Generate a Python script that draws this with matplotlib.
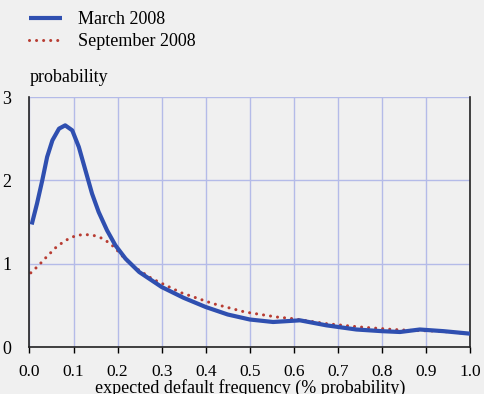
import matplotlib
matplotlib.use("Agg")
import matplotlib.pyplot as plt

march_x = [0.005, 0.017, 0.029, 0.04, 0.052, 0.067, 0.081, 0.097, 0.112, 0.127,
           0.142, 0.157, 0.176, 0.195, 0.218, 0.249, 0.283, 0.3, 0.35, 0.4, 0.45, 0.5,
           0.553, 0.614, 0.674, 0.742, 0.8, 0.841, 0.886, 0.94, 1.0]
march_y = [1.47, 1.72, 2.0, 2.28, 2.48, 2.62, 2.66, 2.6, 2.4, 2.12,
           1.84, 1.62, 1.4, 1.22, 1.06, 0.9, 0.78, 0.72, 0.59, 0.48, 0.39, 0.33,
           0.30, 0.32, 0.26, 0.21, 0.19, 0.18, 0.21, 0.19, 0.16]

sept_x = [0.003, 0.021, 0.033, 0.046, 0.059, 0.074, 0.089, 0.107, 0.126, 0.145, 0.162,
          0.178, 0.192, 0.218, 0.234, 0.249, 0.278, 0.345, 0.417, 0.489, 0.561, 0.598,
          0.674, 0.75, 0.826, 0.864, 0.93, 1.0]
sept_y = [0.89, 0.98, 1.05, 1.12, 1.19, 1.25, 1.30, 1.34, 1.35, 1.34, 1.31,
          1.26, 1.20, 1.05, 0.98, 0.92, 0.82, 0.65, 0.52, 0.42, 0.36, 0.34,
          0.28, 0.24, 0.21, 0.20, 0.19, 0.16]

x_ticks = [0.0, 0.1, 0.2, 0.3, 0.4, 0.5, 0.6, 0.7, 0.8, 0.9, 1.0]
y_ticks = [0, 1, 2, 3]

BG = "#f0f0f0"
BLUE = "#2f4fb0"
RED = "#b83c32"
GRID = "#b4bbe8"

plt.rcParams["font.family"] = ["Liberation Serif", "DejaVu Serif"]
plt.rcParams["font.size"] = 13

fig = plt.figure(figsize=(4.85, 3.94), dpi=100, facecolor=BG)
ax = fig.add_axes([29.5 / 485, 47 / 394, 440.5 / 485, 250 / 394], facecolor=BG)

line_m, = ax.plot(march_x, march_y, color=BLUE, lw=3.0, solid_capstyle="butt",
                  solid_joinstyle="round", zorder=3)
line_s, = ax.plot(sept_x, sept_y, color=RED, lw=2.2, linestyle=(0, (0.01, 2.3)),
                  dash_capstyle="round", zorder=2)

ax.set_xlim(0, 1.0)
ax.set_ylim(0, 3)
ax.set_xticks(x_ticks)
ax.set_xticklabels([f"{v:.1f}" for v in x_ticks])
ax.set_yticks(y_ticks)
ax.grid(True, color=GRID, lw=1.0)
ax.set_axisbelow(True)

for side in ["left", "right", "bottom"]:
    ax.spines[side].set_color("#222222")
    ax.spines[side].set_linewidth(1.2)
ax.spines["top"].set_visible(False)

ax.tick_params(axis="x", direction="out", length=4, width=1.0, pad=8.5, labelsize=12.5)
ax.tick_params(axis="y", length=0, pad=13, labelright=True, right=False)
ax.set_xlabel("expected default frequency (% probability)", labelpad=-1)

fig.text(30 / 485, 1 - 78 / 394, "probability", ha="left", va="center")

fig.legend([line_m, line_s], ["March 2008", "September 2008"], loc="upper left",
           bbox_to_anchor=(29 / 485, 1 - 11 / 394), frameon=False, borderpad=0,
           borderaxespad=0, handlelength=1.85, handletextpad=0.85,
           labelspacing=0.3, fontsize=13)

fig.savefig("out.png", dpi=100, facecolor=BG)
